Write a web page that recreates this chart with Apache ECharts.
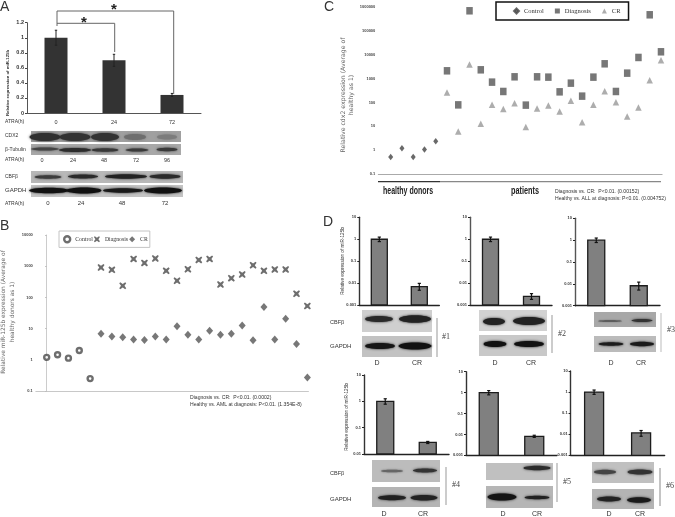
<!DOCTYPE html>
<html><head><meta charset="utf-8">
<style>html,body{margin:0;padding:0;background:#fff}#c{width:675px;height:517px;filter:blur(0.4px)}</style>
<script src="https://cdn.jsdelivr.net/npm/echarts@6/dist/echarts.min.js"></script>
</head><body><div id="c"></div>
<script>
// ---- Panel A data
const aHours = ['0','24','72'];
const aValues = [1, 0.7, 0.24];
const aErrors = [0.1, 0.08, 0.02];
// ---- Panel B data (miR-125b, log scale)
const bControl = [1.2, 1.45, 1.13, 1.99, 0.25];
const bDiagnosis = [906,764,236,1714,1277,1756,710,340,802,1592,1714,260,414,542,1076,710,783,783,131,53];
const bCR = [6.9,5.55,5.3,4.45,4.35,5.55,4.45,11.9,6.4,4.45,8.6,6.3,6.9,12.5,4.2,49,4.45,20.8,3.2,0.27];
// ---- Panel C data (cdx2, log scale)
const cControl = [0.52,1.21,0.52,1.07,2.39];
const cDiagnosis = [2154,80,714000,2373,720,292,1205,78,1205,1167,282,653,186,1167,4240,292,1718,7830,485000,13540];
const cCR = [265,6.1,3980,12.8,80,53,94,9.3,56,75,42,118,15,80,301,104,26,62,873,6050];
// ---- Panel D data: value and [low, high] per patient, D then CR
const dLabels = ['D','CR'];
const d1CR = 0.00686, d1Err = [0.0047,0.0097];
const d2CR = 0.00248, d2Err = [0.0018,0.0033];
const d3CR = 0.0082, d3Err = [0.0052,0.012];
const d4CR = 0.0277, d4Err = [0.025,0.03];
const d5CR = 0.0081, d5Err = [0.0072,0.0091];
const d6CR = 0.0115, d6Err = [0.008,0.015];
const dDErr = [0.78,1.25];

const SANS='"Liberation Sans",Arial,sans-serif', WIDE='"DejaVu Sans",sans-serif', SERIF='"Liberation Serif",serif';
const logFmt=v=>String(+(+v).toPrecision(3));
const chart = echarts.init(document.getElementById('c'),null,{renderer:'canvas'});
const grids=[],xAxes=[],yAxes=[],series=[],gfx=[];

function addGrid(left,top,width,height,xa,ya){
  grids.push({left,top,width,height,containLabel:false});
  const i=grids.length-1;
  xAxes.push(Object.assign({gridIndex:i},xa));
  yAxes.push(Object.assign({gridIndex:i},ya));
  return i;
}
function errSeries(i,data,color,cap,lw){
  series.push({type:'custom',xAxisIndex:i,yAxisIndex:i,silent:true,z:5,data,
    renderItem(p,api){
      const x=api.value(0),a=api.coord([x,api.value(1)]),b=api.coord([x,api.value(2)]);
      const st={stroke:color,lineWidth:lw};
      return {type:'group',children:[
        {type:'line',shape:{x1:a[0],y1:a[1],x2:b[0],y2:b[1]},style:st},
        {type:'line',shape:{x1:a[0]-cap,y1:a[1],x2:a[0]+cap,y2:a[1]},style:st},
        {type:'line',shape:{x1:b[0]-cap,y1:b[1],x2:b[0]+cap,y2:b[1]},style:st}]};
    },encode:{x:0,y:[1,2]}});
}
// bars on a log axis that rise from the axis minimum
function logBars(i,data,base,barW){
  series.push({type:'custom',xAxisIndex:i,yAxisIndex:i,silent:true,z:3,data,
    renderItem(p,api){
      const x=api.value(0),top=api.coord([x,api.value(1)]),bot=api.coord([x,base]);
      return {type:'rect',shape:{x:top[0]-barW/2,y:top[1],width:barW,height:bot[1]-top[1]},
        style:{fill:'#808080',stroke:'#1c1c1c',lineWidth:1.3}};
    },encode:{x:0,y:1}});
}
function t(x,y,text,size,o){o=o||{};
  gfx.push({type:'text',x,y,rotation:o.rot||0,scaleX:o.sx||1,z:20,silent:true,style:{text,fontSize:size,fontFamily:o.font||SANS,fontWeight:o.w||'normal',fill:o.c||'#333',align:o.a||'left',verticalAlign:'middle'}});
}
function line(pts,c,w){
  gfx.push({type:'polyline',z:15,silent:true,shape:{points:pts},style:{stroke:c,lineWidth:w,fill:null}});
}
function blot(x,y,w,h,bg,bands){
  gfx.push({type:'rect',z:10,silent:true,shape:{x,y,width:w,height:h},style:{fill:bg}});
  bands.forEach(b=>gfx.push({type:'ellipse',z:11,silent:true,shape:{cx:b[0],cy:b[1],rx:b[2]/2,ry:b[3]/2},style:{fill:b[4],shadowBlur:b[5]||2.5,shadowColor:b[4]}}));
}

// ---- Panel A
{
  const i=addGrid(27,22.7,174,90.3,
    {type:'category',data:aHours,axisLine:{lineStyle:{color:'#555',width:1}},axisTick:{length:2,lineStyle:{color:'#444'}},axisLabel:{fontSize:5.5,color:'#333',margin:6,fontFamily:SANS}},
    {type:'value',min:0,max:1.2,interval:0.2,splitLine:{show:false},axisLine:{show:true,lineStyle:{color:'#555'}},axisTick:{show:true,length:2,lineStyle:{color:'#444'}},axisLabel:{fontSize:5.5,fontWeight:'bold',color:'#333',margin:3,fontFamily:SANS}});
  series.push({name:'A',type:'bar',xAxisIndex:i,yAxisIndex:i,data:aValues,barWidth:23,itemStyle:{color:'#333333'}});
  errSeries(i,aHours.map((h,k)=>[k,aValues[k]-aErrors[k],aValues[k]+aErrors[k]]),'#222',1.2,1);
}
// ---- Panel B
const markB={Control:{symbol:'circle',symbolSize:5,itemStyle:{color:'#fff',borderColor:'#4a4a4a',borderWidth:2.4}},
  Diagnosis:{symbol:'path://M1.5 0L5 2.5L8.5 0L10 1.5L7.5 5L10 8.5L8.5 10L5 7.5L1.5 10L0 8.5L2.5 5L0 1.5Z',symbolSize:7,itemStyle:{color:'#4a4a4a'}},
  CR:{symbol:'diamond',symbolSize:[7,8],itemStyle:{color:'#555'}}};
{
  const i=addGrid(35.84,235,272.6,156,
    {type:'value',min:-1,max:24.1,show:true,splitLine:{show:false},axisTick:{show:false},axisLabel:{show:false},axisLine:{lineStyle:{color:'#c8c8c8'}}},
    {type:'log',logBase:10,min:0.1,max:10000,splitLine:{show:false},axisLine:{show:true,lineStyle:{color:'#ccc'}},axisTick:{show:true,length:1.5,lineStyle:{color:'#bbb'}},minorTick:{show:false},axisLabel:{fontSize:4,color:'#444',margin:3,fontWeight:'bold',formatter:logFmt}});
  const ser=(name,vals,off)=>series.push(Object.assign({name,type:'scatter',xAxisIndex:i,yAxisIndex:i,data:vals.map((v,k)=>[k+off,v])},markB[name]));
  ser('Control',bControl,0);ser('Diagnosis',bDiagnosis,5);ser('CR',bCR,5);
}
// ---- Panel C
const markC={Control:{symbol:'diamond',symbolSize:[5,6.5],itemStyle:{color:'#444'}},
  Diagnosis:{symbol:'rect',symbolSize:[6.5,7.5],itemStyle:{color:'#555'}},
  CR:{symbol:'triangle',symbolSize:[6.5,6.5],itemStyle:{color:'#999'}}};
{
  const i=addGrid(378.3,7.3,283.8,166.7,
    {type:'value',min:-1.1,max:24.1,splitLine:{show:false},axisTick:{show:false},axisLabel:{show:false},axisLine:{lineStyle:{color:'#aaa'}}},
    {type:'log',logBase:10,min:0.1,max:1000000,splitLine:{show:false},axisLine:{show:false},axisTick:{show:false},minorTick:{show:false},axisLabel:{fontSize:4,color:'#444',margin:3,fontWeight:'bold',formatter:logFmt}});
  const ser=(name,vals,off)=>series.push(Object.assign({name,type:'scatter',xAxisIndex:i,yAxisIndex:i,data:vals.map((v,k)=>[k+off,v])},markC[name]));
  ser('Control',cControl,0);ser('Diagnosis',cDiagnosis,5);ser('CR',cCR,5);
}
// ---- Panel D
function dPanel(left,top,width,height,min,cr,err,barW,axisC){
  const i=addGrid(left,top,width,height,
    {type:'category',data:dLabels,axisLine:{lineStyle:{color:'#222',width:1.4}},axisTick:{length:2,lineStyle:{color:'#222'}},axisLabel:{show:false}},
    {type:'log',logBase:10,min,max:10,splitLine:{show:false},axisLine:{show:true,lineStyle:{color:axisC||'#333',width:1.4}},axisTick:{show:true,length:2,lineStyle:{color:'#222'}},minorTick:{show:false},axisLabel:{fontSize:4,color:'#333',margin:3,fontWeight:'bold',formatter:logFmt}});
  logBars(i,[[0,1],[1,cr]],min,barW);
  errSeries(i,[[0,dDErr[0],dDErr[1]],[1,err[0],err[1]]],'#111',1.6,1.2);
}
dPanel(359.3,217.3,80,87.7,0.001,d1CR,d1Err,16);
dPanel(470,217.3,82,87.7,0.001,d2CR,d2Err,16,'#555');
dPanel(575,218.3,85,87.4,0.001,d3CR,d3Err,17,'#555');
dPanel(364,375,85,79,0.01,d4CR,d4Err,17);
dPanel(466,371.7,91,83.6,0.001,d5CR,d5Err,19);
dPanel(570.6,371,94,84.3,0.001,d6CR,d6Err,19);

// ---- Text & annotation overlays
t(0,7,'A',14);t(0,226,'B',14);t(324,7,'C',14);t(323,222,'D',14);
line([[57,26],[57,11],[173.7,11],[173.7,94]],'#666',1);
line([[57,23.3],[114.7,23.3],[114.7,52]],'#666',1);
t(84,23,'*',15,{a:'center',w:'bold',c:'#222'});t(114,10,'*',15,{a:'center',w:'bold',c:'#222'});
t(8,83,'Relative expression of miR-125b',4.3,{a:'center',rot:Math.PI/2,w:'bold'});
t(5,122,'ATRA(h)',5);
t(5,136,'CDX2',5);t(5,149.5,'β-Tubulin',5);t(5,160,'ATRA(h)',5);
t(5,177,'CBFβ',5);t(5,190,'GAPDH',6);t(5,203.5,'ATRA(h)',5);
[[42,'0'],[73,'24'],[104,'48'],[136,'72'],[167,'96']].forEach(a=>t(a[0],160,a[1],5.5,{a:'center'}));
[[48,'0'],[81,'24'],[122,'48'],[165,'72']].forEach(a=>t(a[0],203.5,a[1],6,{a:'center'}));
blot(31,131,150,11,'#a0a0a0',[[45,137,31,8,'#303030'],[75,137,31,8,'#333'],[105,137,28,8,'#333'],[135,137,22,6,'#6e6e6e'],[167,137,20,5,'#7c7c7c']]);
blot(31,144,150,11,'#a8a8a8',[[45,149,28,3,'#444'],[75,150,32,4,'#2c2c2c'],[105,150,27,3.5,'#383838'],[137,150,23,3,'#3a3a3a'],[167,149.5,21,3.5,'#3a3a3a']]);
blot(31,171,152,12,'#b8b8b8',[[48,177,27,3.5,'#3c3c3c'],[83,176.5,30,4,'#2a2a2a'],[126,176.5,42,4.5,'#222'],[165,176.5,31,4.5,'#2a2a2a']]);
blot(31,185,152,12,'#c4c4c4',[[49,190.5,40,5.5,'#111'],[84,190.5,35,6,'#111'],[123,190.5,40,4.5,'#1a1a1a'],[163,190.5,38,6,'#111']]);

t(3.5,312,'Relative miR-125b expression (Average of',5.9,{a:'center',rot:Math.PI/2,font:WIDE,c:'#666'});
t(12,312,'healthy donors as 1)',5.9,{a:'center',rot:Math.PI/2,font:WIDE,c:'#666'});
t(190,398,'Diagnosis vs. CR:  P<0.01. (0.0002)',5.1);
t(190,404.6,'Healthy vs. AML at diagnosis: P<0.01. (1.354E-8)',5.1);

t(343,95,'Relative cdx2 expression (Average of',6.2,{a:'center',rot:Math.PI/2,font:WIDE,c:'#666'});
t(351.5,95,'healthy as 1)',6.2,{a:'center',rot:Math.PI/2,font:WIDE,c:'#666'});
line([[378,181.7],[440,181.7]],'#333',1.3);line([[440,181.7],[661,181.7]],'#888',1.3);
t(383,191,'healthy donors',10,{c:'#222',w:'bold',sx:0.7});
t(511,191,'patients',10,{c:'#222',w:'bold',sx:0.73});
t(555,192,'Diagnosis vs. CR:  P<0.01. (0.00152)',5.1);
t(555,199,'Healthy vs. ALL at diagnosis: P<0.01. (0.004752)',5.1);

// D labels
t(343,261,'Relative expression of miR-125b',4.7,{a:'center',rot:Math.PI/2});
t(347,417,'Relative expression of miR-125b',4.7,{a:'center',rot:Math.PI/2});
function dRow(cb,gp,bandsC,bandsG,lineP,lab,labPos,dx,crx,y,lc){
  blot(cb[0],cb[1],cb[2],cb[3],cb[4],bandsC);
  blot(gp[0],gp[1],gp[2],gp[3],gp[4],bandsG);
  line([[lineP[0],lineP[1]],[lineP[0],lineP[2]]],lc||'#999',lineP[3]||1);
  t(labPos[0],labPos[1],lab,8,{font:SERIF,c:'#444'});
  t(dx,y,'D',7,{a:'center'});t(crx,y,'CR',7,{a:'center'});
}
dRow([362,310,70,22,'#cfcfcf'],[362,336,70,21,'#c2c2c2'],
 [[379,319,28,6,'#2a2a2a'],[415,319,32,7.5,'#222']],[[380,346,30,6,'#151515'],[415,346,33,7,'#111']],
 [437,318,357],'#1',[442,337],377,417,363);
dRow([479,310,68,21,'#d2d2d2'],[479,335,68,21,'#c8c8c8'],
 [[494,321.5,22,7,'#222'],[529,321,32,8,'#222']],[[495,344,23,6,'#111'],[529,344,30,6,'#111']],
 [552,315,353],'#2',[558,334],495,531,363);
dRow([594,312,62,15,'#a8a8a8'],[594,336,62,16,'#bbb'],
 [[610,321,24,1.6,'#555',1.5],[642,320.5,21,3,'#333']],[[611,344,25,3.5,'#1c1c1c'],[642,344,24,4.5,'#1a1a1a']],
 [661,313,352],'#3',[667,330],611,641,363,'#bbb');
dRow([372,460,68,22,'#bcbcbc'],[372,487,68,20,'#b4b4b4'],
 [[392,471,22,2.5,'#666',2],[425,470.5,24,4,'#333']],[[392,497.7,28,5,'#222'],[424,497.7,27,5.5,'#222']],
 [446,467,505],'#4',[452,485],384,423,514);
dRow([486,463,67,17,'#c0c0c0'],[486,486,67,22,'#b6b6b6'],
 [[537,468,27,4.5,'#2c2c2c']],[[502,497,29,7,'#151515'],[537,497.5,25,3.5,'#222']],
 [557,463,502],'#5',[563,482],503,537,514);
dRow([592,462,62,21,'#c0c0c0'],[592,489,62,20,'#b4b4b4'],
 [[605,472,22,4.5,'#444'],[640,472,25,5,'#333']],[[609,499,24,5,'#222'],[639,500,24,5.5,'#1a1a1a']],
 [660,468,506,2],'#6',[666,486],609,640,514,'#c4c4c4');
t(330,322,'CBFβ',5.5);t(330,346,'GAPDH',6);
t(330,473,'CBFβ',5.5);t(330,499,'GAPDH',6);

const lgIcon=(m,name,c)=>({name,icon:m,itemStyle:c});
chart.setOption({
  animation:false,
  grid:grids,xAxis:xAxes,yAxis:yAxes,series,
  legend:[
   {left:59,top:231,padding:[4,2,4,4],itemWidth:6,itemHeight:6,itemGap:1,borderColor:'#c4c4c4',borderWidth:1,
    textStyle:{fontFamily:SERIF,fontSize:5.8,color:'#333'},selectedMode:false,
    data:[lgIcon('circle','Control',markB.Control.itemStyle),lgIcon(markB.Diagnosis.symbol,'Diagnosis',markB.Diagnosis.itemStyle),lgIcon('diamond','CR',markB.CR.itemStyle)]},
   {left:496,top:2,padding:[5.5,8,5.5,17],itemWidth:5,itemHeight:5,itemGap:11,borderColor:'#111',borderWidth:1.5,
    textStyle:{fontFamily:SERIF,fontSize:6.5,color:'#333'},selectedMode:false,
    data:[lgIcon('diamond','Control',markC.Control.itemStyle),lgIcon('rect','Diagnosis',markC.Diagnosis.itemStyle),lgIcon('triangle','CR',markC.CR.itemStyle)]}
  ],
  graphic:{elements:gfx}
});
</script></body></html>
